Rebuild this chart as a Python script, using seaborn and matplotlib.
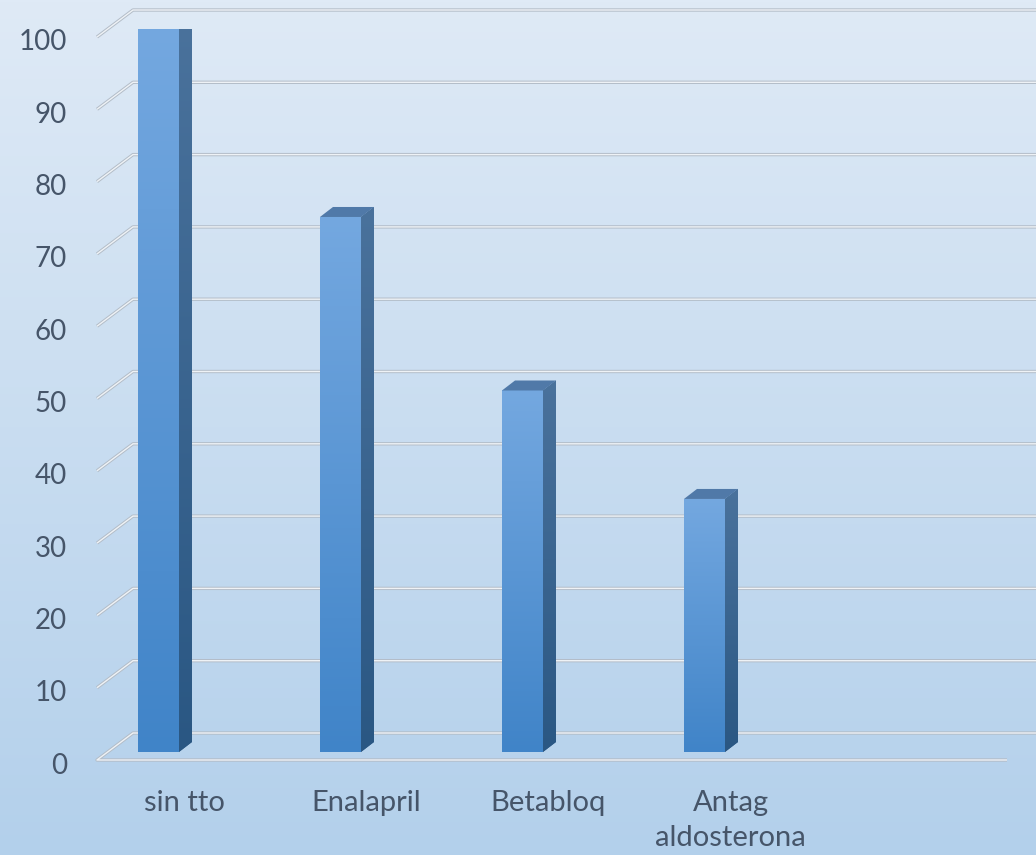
import numpy as np
import matplotlib
matplotlib.use("Agg")
import matplotlib.pyplot as plt
import seaborn as sns
import pandas as pd
from matplotlib.patches import Polygon
from matplotlib.transforms import ScaledTranslation
from matplotlib.colors import to_rgb

# ---- data ----
categories = ["sin tto", "Enalapril", "Betabloq", "Antag\naldosterona"]
values = [100, 74, 50, 35]
yticks = [0, 10, 20, 30, 40, 50, 60, 70, 80, 90, 100]

plt.rcParams['font.family'] = ['Lato', 'DejaVu Sans']

W, H, DPI = 1036, 855, 100
fig = plt.figure(figsize=(W / DPI, H / DPI), dpi=DPI)

def vgrad(c_top, c_bot, n=256):
    t = np.linspace(0, 1, n)[:, None, None]
    a = np.array(to_rgb(c_top))[None, None, :]
    b = np.array(to_rgb(c_bot))[None, None, :]
    return a * (1 - t) + b * t

# background gradient
bg = fig.add_axes([0, 0, 1, 1], zorder=-10)
bg.imshow(vgrad("#dfeaf6", "#b3d0eb"), aspect="auto", extent=[0, 1, 0, 1])
bg.axis("off")

# plot area (bar plane) in pixels
L, R, B, T = 67.5, 977.5, 752, 29
ax = fig.add_axes([L / W, (H - B) / H, (R - L) / W, (B - T) / H])
ax.set_facecolor("none")

df = pd.DataFrame({"cat": categories, "val": values})
sns.barplot(data=df, x="cat", y="val", ax=ax, width=41 / 182, color="#5b9bd5",
            saturation=1, edgecolor="none", zorder=3)
ax.set_xlim(-0.5, 4.5)
ax.set_ylim(0, 100)
ax.set_xlabel("")
ax.set_ylabel("")
ax.grid(False)
for s in ax.spines.values():
    s.set_visible(False)

sx = 5 / (R - L)       # data units per px (x)
sy = 100 / (B - T)     # data units per px (y)

def xpx(p):
    return -0.5 + (p - L) * sx

# gridlines (back wall + left diagonals)
for v in yticks:
    yb = v + 19 * sy
    yf = v - 8 * sy
    xs = [xpx(97), xpx(133), xpx(1045)]
    ys = [yf, yb, yb]
    if v == 0:
        xs = [xpx(1007)] + xs
        ys = [yf] + ys
    ax.plot(xs, ys, color="#b3bdc8", lw=2.4, clip_on=False, zorder=1,
            solid_capstyle="butt")
    ax.plot(xs, ys, color="#eef2f6", lw=1.0, clip_on=False, zorder=1.1,
            solid_capstyle="butt")

# 3D bar faces
dx, dy = 13 * sx, 10 * sy
for p in list(ax.patches):
    x0, w, h = p.get_x(), p.get_width(), p.get_height()
    x1 = x0 + w
    im = ax.imshow(vgrad("#74a8e0", "#4084c8"), extent=[x0, x1, 0, h],
                   aspect="auto", zorder=3.1)
    im.set_clip_path(p)
    side = Polygon([(x1, 0), (x1 + dx, dy), (x1 + dx, h + dy), (x1, h)],
                   closed=True, facecolor="#3a6590", edgecolor="none", zorder=3)
    ax.add_patch(side)
    ims = ax.imshow(vgrad("#4a729c", "#2a5783"), extent=[x1, x1 + dx, 0, h + dy],
                    aspect="auto", zorder=3.1)
    ims.set_clip_path(side)
    top = Polygon([(x0, h), (x0 + dx, h + dy), (x1 + dx, h + dy), (x1, h)],
                  closed=True, facecolor="#5079a8", edgecolor="none", zorder=3.2)
    ax.add_patch(top)

ax.set_xlim(-0.5, 4.5)
ax.set_ylim(0, 100)

# ticks
txt = "#465569"
ax.set_yticks(yticks)
ax.set_yticklabels([str(v) for v in yticks])
ax.tick_params(axis="y", length=0, pad=0.5, labelsize=20, labelcolor=txt)
for lbl in ax.get_yticklabels():
    lbl.set_transform(lbl.get_transform() + ScaledTranslation(0, -0.11, fig.dpi_scale_trans))

ax.set_xticks(range(len(categories)))
ax.set_xticklabels(categories, linespacing=1.45)
ax.tick_params(axis="x", length=0, pad=27, labelsize=21, labelcolor=txt)
for lbl in ax.get_xticklabels():
    lbl.set_transform(lbl.get_transform() + ScaledTranslation(0.26, 0, fig.dpi_scale_trans))

fig.savefig("out.png", dpi=DPI)
